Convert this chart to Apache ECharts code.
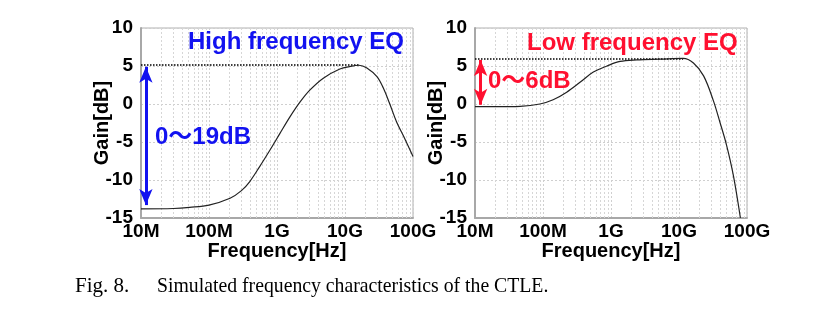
<!DOCTYPE html>
<html>
<head>
<meta charset="utf-8">
<script src="https://cdn.jsdelivr.net/npm/echarts@6/dist/echarts.min.js"></script>
<style>html,body{margin:0;padding:0;background:#fff;}#c{width:829px;height:329px;}</style>
</head>
<body>
<div id="c"></div>
<script>
// ---- data ----
const xTickLabels = ['10M', '100M', '1G', '10G', '100G'];
const yTicks = [-15, -10, -5, 0, 5, 10];

const freqHF = [1e7, 3e7, 5.2e7, 1e8, 2.04e8, 3e8, 3.98e8, 5.5e8, 7.89e8, 1.1e9, 1.55e9, 2.2e9, 3.06e9, 4.8e9, 8.4e9, 1.2e10, 1.6e10, 2.1e10, 2.95e10, 3.66e10, 4.56e10, 5.7e10, 7.6e10, 1e11];
const gainHF = [-13.8, -13.75, -13.6, -13.3, -12.4, -11.4, -10.2, -8.3, -6.05, -3.9, -1.7, 0.3, 1.85, 3.4, 4.6, 4.95, 5.1, 4.75, 3.6, 2.1, 0.0, -2.3, -4.6, -6.9];

const freqLF = [1e7, 2e7, 4.6e7, 9e7, 1.41e8, 2.23e8, 3.5e8, 5.5e8, 8.7e8, 1.36e9, 2.4e9, 5.3e9, 1.15e10, 1.63e10, 2.3e10, 3.2e10, 4e10, 5e10, 6.3e10, 8e10];
const gainLF = [-0.35, -0.35, -0.3, 0.0, 0.55, 1.55, 2.85, 4.2, 5.0, 5.6, 5.8, 5.9, 6.0, 5.4, 3.7, 0.45, -2.4, -5.4, -9.4, -15.0];

// reference (peak) lines: [start freq, end freq, level]
const peakHF = [1e7, 1.6e10, 5.1];
const peakLF = [1e7, 1.15e10, 6.0];
// arrows: [freq, top, bottom]
const arrowHF = [1.18e7, 4.9, -13.3];
const arrowLF = [1.21e7, 5.8, -0.1];

const gridDecades = [1e7, 1e8, 1e9, 1e10];
const gridMultipliers = [2, 3, 4, 5, 6, 7, 8, 9];

// ---- chart ----
const FONT = '"Liberation Sans", Arial, "Noto Sans CJK JP", sans-serif';
const BLUE = '#1212f0';
const RED = '#ff1030';

const minorFreqs = [];
gridDecades.forEach(d => gridMultipliers.forEach(m => minorFreqs.push(m * d)));

function makeX(i) {
  return {
    type: 'log', logBase: 10, gridIndex: i, min: 1e7, max: 1e11, splitNumber: 4,
    name: 'Frequency[Hz]', nameLocation: 'middle', nameGap: 23, nameMoveOverlap: false,
    nameTextStyle: { fontFamily: FONT, fontWeight: 'bold', fontSize: 20, color: '#000', verticalAlign: 'top' },
    axisLine: { show: true, onZero: false, lineStyle: { color: '#a8a8a8', width: 2 } },
    axisTick: { show: false },
    axisLabel: {
      fontFamily: FONT, fontWeight: 'bold', fontSize: 19, color: '#000', margin: 4,
      formatter: v => xTickLabels[Math.round(Math.log10(v)) - 7]
    },
    splitLine: { show: true, lineStyle: { color: '#cfcfcf', type: [2, 2], width: 1 } }
  };
}
function makeY(i) {
  return {
    type: 'value', gridIndex: i, min: yTicks[0], max: yTicks[yTicks.length - 1], interval: 5,
    name: 'Gain[dB]', nameLocation: 'middle', nameGap: 39, nameMoveOverlap: false,
    nameTextStyle: { fontFamily: FONT, fontWeight: 'bold', fontSize: 20, color: '#000', verticalAlign: 'middle' },
    axisLine: { show: true, onZero: false, lineStyle: { color: '#a8a8a8', width: 2 } },
    axisTick: { show: false },
    axisLabel: { fontFamily: FONT, fontWeight: 'bold', fontSize: 19, color: '#000', margin: 8 },
    splitLine: { show: true, lineStyle: { color: '#cfcfcf', type: [2, 2], width: 1 } }
  };
}
function curve(i, fx, gy) {
  return {
    type: 'line', xAxisIndex: i, yAxisIndex: i, z: 5,
    data: fx.map((f, k) => [f, gy[k]]),
    showSymbol: false, smooth: 0.35,
    lineStyle: { color: '#222', width: 1.2 }, silent: true
  };
}
function gridHelper(i) {
  return {
    type: 'line', xAxisIndex: i, yAxisIndex: i, data: [], z: 1, silent: true,
    markLine: {
      silent: true, symbol: 'none', label: { show: false }, animation: false,
      lineStyle: { color: '#d6d6d6', type: [2, 2], width: 1 },
      data: minorFreqs.map(f => ({ xAxis: f }))
    }
  };
}
function annot(i, peak, arrow, color) {
  return {
    type: 'line', xAxisIndex: i, yAxisIndex: i, data: [], z: 6, silent: true,
    markLine: {
      silent: true, label: { show: false }, animation: false,
      data: [
        [{ coord: [peak[0], peak[2]], symbol: 'none', lineStyle: { color: '#000', type: [1.5, 1.5], width: 1.5 } },
         { coord: [peak[1], peak[2]], symbol: 'none' }],
        [{ coord: [arrow[0], arrow[1]], symbol: 'arrow', symbolSize: [10, 16], lineStyle: { color: color, type: 'solid', width: 3 }, itemStyle: { color: color } },
         { coord: [arrow[0], arrow[2]], symbol: 'arrow', symbolSize: [10, 16] }]
      ]
    }
  };
}

const chart = echarts.init(document.getElementById('c'), null, { renderer: 'canvas' });
chart.setOption({
  animation: false,
  backgroundColor: '#fff',
  grid: [
    { left: 141, top: 28, width: 272, height: 190, show: true, borderColor: '#b0b0b0', borderWidth: 1, backgroundColor: 'transparent' },
    { left: 475, top: 28, width: 272, height: 190, show: true, borderColor: '#b0b0b0', borderWidth: 1, backgroundColor: 'transparent' }
  ],
  xAxis: [makeX(0), makeX(1)],
  yAxis: [makeY(0), makeY(1)],
  series: [
    gridHelper(0), gridHelper(1),
    curve(0, freqHF, gainHF), curve(1, freqLF, gainLF),
    annot(0, peakHF, arrowHF, BLUE), annot(1, peakLF, arrowLF, RED)
  ],
  graphic: [
    { type: 'text', left: 188, top: 30, z: 10, style: { text: 'High frequency EQ', fill: BLUE, font: 'bold 24px ' + FONT } },
    { type: 'text', left: 155, top: 125, z: 10, style: { text: '0～19dB', fill: BLUE, font: 'bold 24px ' + FONT } },
    { type: 'text', left: 527, top: 31, z: 10, style: { text: 'Low frequency EQ', fill: RED, font: 'bold 24px ' + FONT } },
    { type: 'text', left: 488, top: 69, z: 10, style: { text: '0～6dB', fill: RED, font: 'bold 24px ' + FONT } },
    { type: 'text', left: 75, top: 276, z: 10, style: { text: 'Fig. 8.', fill: '#000', font: '21px "Liberation Serif", "Times New Roman", serif' } },
    { type: 'text', left: 157, top: 276, z: 10, scaleX: 0.94, style: { text: 'Simulated frequency characteristics of the CTLE.', fill: '#000', font: '21px "Liberation Serif", "Times New Roman", serif' } }
  ]
});
</script>
</body>
</html>
